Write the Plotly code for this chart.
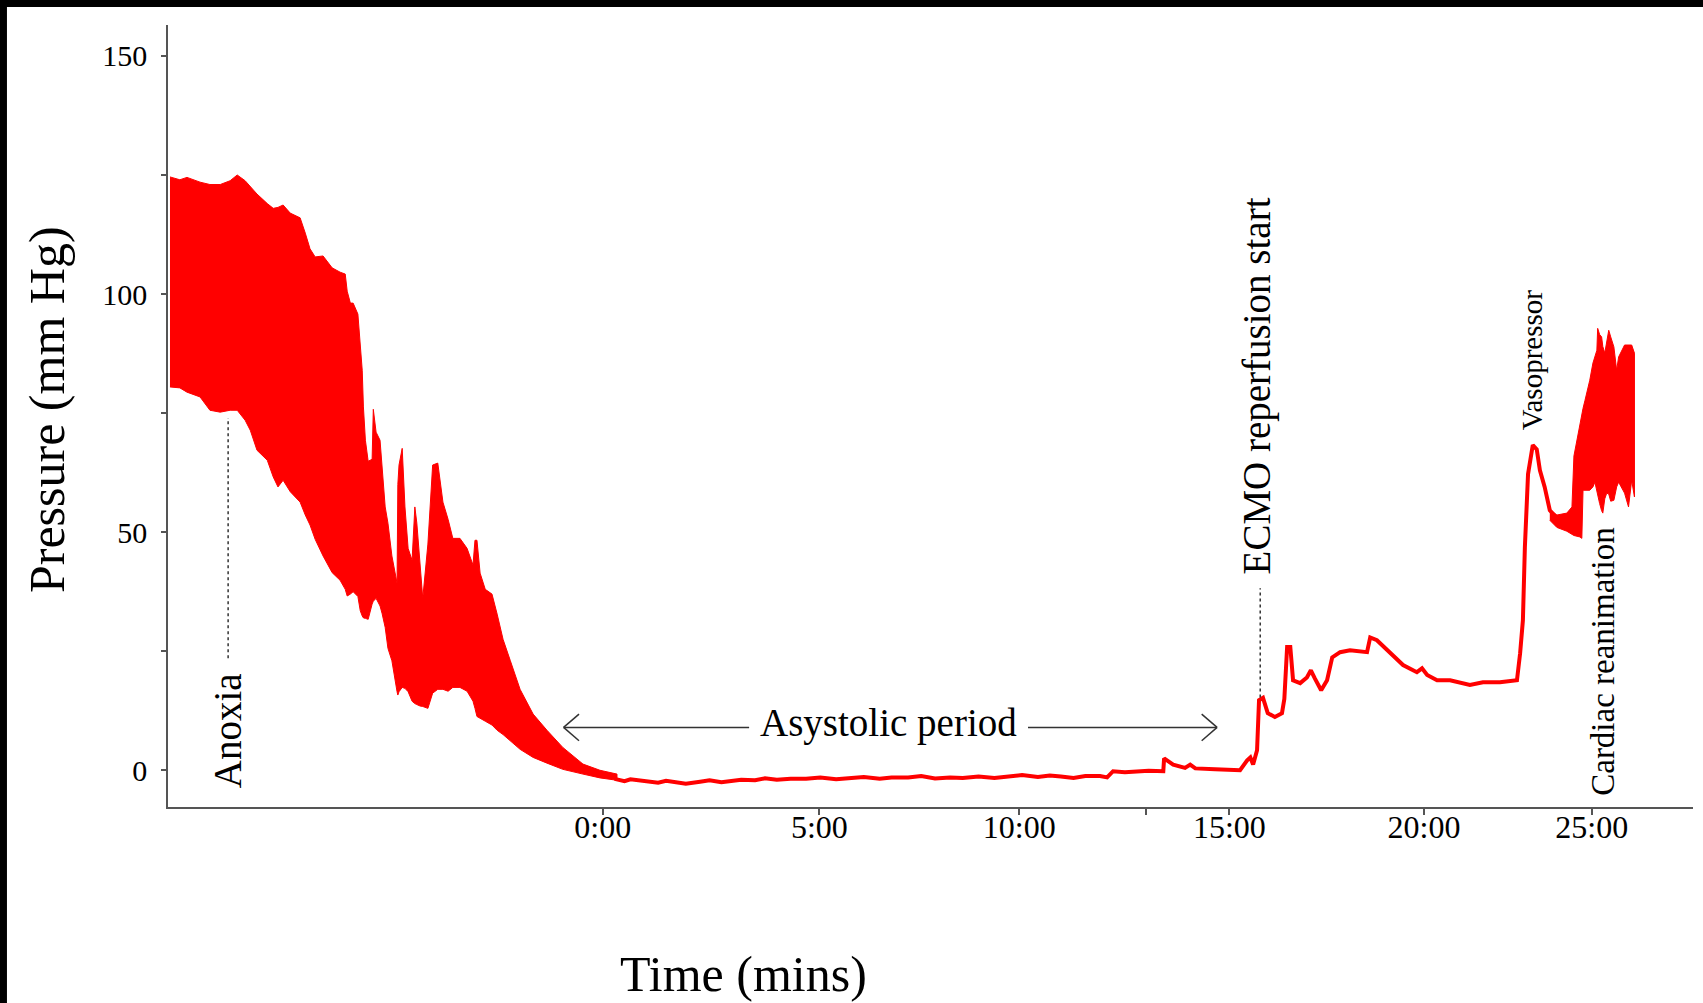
import plotly.graph_objects as go

# ---------------- data (time in minutes relative to asystole onset, pressure in mm Hg) ----------------
band1_t = [-10.94, -10.69, -10.51, -10.18, -9.93, -9.67, -9.42, -9.24, -9.04, -8.91, -8.74, -8.48, -8.33,
           -8.21, -8.08, -7.90, -7.65, -7.52, -7.40, -7.27, -7.07, -6.84, -6.64, -6.51, -6.46, -6.38, -6.31,
           -6.19, -6.13, -6.08, -6.05, -6.00, -5.93, -5.83, -5.80, -5.73, -5.63, -5.58, -5.50, -5.43, -5.33,
           -5.20, -5.18, -5.15, -5.07, -5.00, -4.92, -4.82, -4.75, -4.70, -4.62, -4.55, -4.42, -4.30, -4.17,
           -4.04, -3.91, -3.79, -3.61, -3.43, -3.28, -3.23, -3.18, -3.10, -2.97, -2.80, -2.67, -2.52, -2.34,
           -2.09, -1.76, -1.41, -1.01, -0.50, -0.07, 0.36]
band1_sys = [124.6, 124.0, 124.5, 123.5, 123.0, 123.0, 123.8, 125.0, 123.8, 122.5, 121.0, 119.0, 118.0,
             118.2, 118.7, 117.0, 116.0, 112.8, 109.5, 107.8, 108.0, 105.5, 104.6, 104.2, 100.6, 98.1, 98.1,
             95.8, 90.1, 84.0, 76.3, 69.3, 64.9, 65.3, 75.8, 71.0, 69.3, 64.1, 55.3, 51.9, 45.0,
             39.3, 60.0, 64.1, 67.6, 55.3, 46.6, 44.1, 55.3, 51.9, 43.1, 36.1, 47.5, 64.1, 64.5,
             56.3, 52.7, 48.7, 48.7, 46.6, 43.1, 48.3, 48.3, 41.4, 38.0, 37.0, 32.8, 27.5, 23.1,
             17.0, 11.8, 8.4, 4.8, 1.3, 0.0, -0.8]
band1_dia = [80.5, 80.3, 79.4, 78.4, 75.6, 75.2, 75.6, 75.6, 73.5, 71.4, 67.2, 65.1, 61.6,
             59.5, 60.9, 58.5, 56.3, 53.6, 51.5, 48.5, 45.0, 41.5, 39.9, 38.0, 36.6, 37.0, 37.5,
             36.5, 33.5, 32.4, 32.0, 31.9, 31.7, 34.9, 35.5, 36.1, 34.5, 33.0, 30.0, 25.6, 23.0,
             16.5, 15.8, 16.5, 17.4, 17.2, 16.5, 14.5, 14.0, 13.8, 13.5, 13.4, 13.0, 16.2, 17.0,
             17.0, 16.6, 17.4, 17.4, 16.6, 14.5, 13.0, 11.3, 11.0, 10.3, 9.5, 8.4, 7.5, 6.3,
             4.4, 2.7, 1.5, 0.2, -0.8, -1.6, -2.1]

line_t = [0.30, 0.55, 0.70, 0.94, 1.15, 1.40, 1.60, 1.93, 2.10, 2.46, 2.70, 3.00, 3.21, 3.50, 3.85,
          4.10, 4.40, 4.75, 5.14, 5.50, 5.90, 6.25, 6.60, 7.00, 7.30, 7.72, 8.05, 8.40, 8.78, 9.10,
          9.50, 9.90, 10.29, 10.60, 11.00, 11.30, 11.58, 11.90, 12.20, 12.57, 12.75, 12.90, 13.20,
          13.50, 13.80, 14.17, 14.19, 14.42, 14.72, 14.85, 14.98, 15.48,
          16.11, 16.29, 16.37, 16.44, 16.54, 16.59, 16.69, 16.81, 16.99, 17.17, 17.23, 17.30, 17.38,
          17.45, 17.63, 17.80, 17.90, 18.00, 18.16, 18.31, 18.44, 18.64, 18.89, 19.32, 19.40, 19.57,
          19.90, 20.23, 20.58, 20.71, 20.84, 21.09, 21.42, 21.92, 22.25, 22.68, 23.11, 23.19, 23.26,
          23.31, 23.39, 23.51, 23.61, 23.69, 23.81, 23.94, 24.12]
line_p = [-1.8, -2.3, -1.9, -2.2, -2.5, -2.6, -2.2, -2.5, -2.8, -2.4, -2.1, -2.5, -2.3, -2.0, -2.1,
          -1.7, -2.0, -1.8, -1.8, -1.5, -1.9, -1.7, -1.4, -1.8, -1.5, -1.5, -1.2, -1.7, -1.5, -1.6,
          -1.3, -1.6, -1.3, -1.0, -1.4, -1.1, -1.3, -1.6, -1.2, -1.2, -1.5, -0.2, -0.4,
          -0.3, -0.1, -0.2, 2.5, 1.2, 0.5, 1.2, 0.4, 0.2,
          0.0, 2.1, 2.7, 1.2, 4.2, 14.7, 15.2, 12.0, 11.2, 12.0, 15.0, 25.9, 25.9,
          18.9, 18.3, 19.5, 21.0, 19.3, 16.8, 18.9, 23.7, 24.8, 25.2, 24.8, 27.9, 27.3,
          24.6, 22.1, 20.6, 21.4, 20.0, 18.9, 18.9, 17.9, 18.5, 18.5, 18.9, 24.6, 31.5,
          46.8, 62.2, 68.3, 67.4, 63.0, 59.5, 54.6, 53.0]

band2_t = [23.94, 24.12, 24.37, 24.50, 24.55, 24.70, 24.75, 24.78, 24.83, 24.95, 25.03, 25.08, 25.13,
           25.15, 25.20, 25.25, 25.28, 25.33, 25.38, 25.43, 25.48, 25.56, 25.63, 25.68, 25.83, 25.93,
           26.01, 26.08]
band2_sys = [54.6, 53.6, 54.0, 55.3, 66.0, 72.9, 75.0, 76.0, 77.7, 81.9, 85.5, 87.0, 88.2,
             92.8, 91.5, 91.0, 89.0, 87.6, 90.0, 92.4, 91.0, 88.9, 84.0, 86.8, 89.3, 89.3,
             89.3, 87.6]
band2_dia = [52.5, 51.0, 50.2, 49.6, 49.3, 49.0, 48.7, 58.8, 58.8, 58.8, 59.5, 60.5, 58.5,
             58.2, 56.0, 54.5, 54.0, 57.0, 58.2, 58.0, 56.5, 56.7, 59.5, 60.5, 58.2, 55.3,
             60.9, 57.4]

x_tick_pos = [0, 5.475, 10.53, 13.72, 15.84, 20.76, 25.0]
x_tick_text = ["0:00", "5:00", "10:00", "", "15:00", "20:00", "25:00"]
y_tick_pos = [0, 25, 50, 75, 100, 125, 150]
y_tick_text = ["0", "", "50", "", "100", "", "150"]

events = [
    # label, x, y, font size
    ("Anoxia", -9.50, 8.4, 39),
    ("ECMO reperfusion start", 16.55, 80.7, 39),
    ("Vasopressor", 23.49, 86.1, 29),
    ("Cardiac reanimation", 25.30, 22.7, 33),
]
event_lines = [(-9.47, 23.5, 74.0), (16.62, 15.3, 38.2)]

RED = "#FF0000"
FONT = "Liberation Serif"
AX = "#555555"

fig = go.Figure()

fig.add_trace(go.Scatter(
    x=band1_t + band1_t[::-1], y=band1_sys + band1_dia[::-1],
    fill="toself", fillcolor=RED, line=dict(color=RED, width=1), mode="lines",
    hoverinfo="skip", showlegend=False))
fig.add_trace(go.Scatter(
    x=line_t, y=line_p, mode="lines", line=dict(color=RED, width=4),
    showlegend=False))
fig.add_trace(go.Scatter(
    x=band2_t + band2_t[::-1], y=band2_sys + band2_dia[::-1],
    fill="toself", fillcolor=RED, line=dict(color=RED, width=1), mode="lines",
    hoverinfo="skip", showlegend=False))

shapes = []
for (xv, y0, y1) in event_lines:
    shapes.append(dict(type="line", xref="x", yref="y", x0=xv, x1=xv, y0=y0, y1=y1,
                       line=dict(color="#333333", width=1.5, dash="dot")))

# Asystolic period double arrow
arr_y = 9.0
arr_l, arr_r = -0.99, 15.53
seg_l_end, seg_r_start = 3.70, 10.75
dx, dy = 0.39, 2.8
ac = dict(color="#333333", width=1.5)
shapes += [
    dict(type="line", x0=arr_l, x1=seg_l_end, y0=arr_y, y1=arr_y, line=ac),
    dict(type="line", x0=seg_r_start, x1=arr_r, y0=arr_y, y1=arr_y, line=ac),
    dict(type="line", x0=arr_l, x1=arr_l + dx, y0=arr_y, y1=arr_y + dy, line=ac),
    dict(type="line", x0=arr_l, x1=arr_l + dx, y0=arr_y, y1=arr_y - dy, line=ac),
    dict(type="line", x0=arr_r, x1=arr_r - dx, y0=arr_y, y1=arr_y + dy, line=ac),
    dict(type="line", x0=arr_r, x1=arr_r - dx, y0=arr_y, y1=arr_y - dy, line=ac),
]

# black frame strips (top and left) of the original image
shapes += [
    dict(type="rect", xref="paper", yref="paper", x0=-0.1102, x1=-0.1056, y0=-0.2506, y1=1.0320,
         fillcolor="black", line=dict(width=0), layer="above"),
    dict(type="rect", xref="paper", yref="paper", x0=-0.1102, x1=1.0066, y0=1.0230, y1=1.0320,
         fillcolor="black", line=dict(width=0), layer="above"),
]

annotations = []
for (txt, xv, yv, fs) in events:
    annotations.append(dict(text=txt, x=xv, y=yv, xref="x", yref="y", showarrow=False,
                            textangle=-90, font=dict(family=FONT, size=fs, color="black"),
                            xanchor="center", yanchor="middle"))
annotations.append(dict(text="Asystolic period", x=7.23, y=10.0, xref="x", yref="y", showarrow=False,
                        font=dict(family=FONT, size=39, color="black"), xanchor="center", yanchor="middle"))
annotations.append(dict(text="Pressure (mm Hg)", x=-0.0793, y=0.5077, xref="paper", yref="paper",
                        showarrow=False, textangle=-90, font=dict(family=FONT, size=50, color="black"),
                        xanchor="center", yanchor="middle"))
annotations.append(dict(text="Time (mins)", x=0.3777, y=-0.2136, xref="paper", yref="paper",
                        showarrow=False, font=dict(family=FONT, size=50, color="black"),
                        xanchor="center", yanchor="middle"))

fig.update_layout(
    width=1703, height=1003,
    margin=dict(l=168, r=10, t=25, b=196, pad=0),
    paper_bgcolor="white", plot_bgcolor="white",
    showlegend=False,
    shapes=shapes, annotations=annotations,
    font=dict(family=FONT, color="black"),
    xaxis=dict(range=[-10.99, 27.56], showgrid=False, zeroline=False,
               showline=True, linecolor=AX, linewidth=1.5,
               ticks="outside", ticklen=6, tickcolor=AX, tickwidth=1.5,
               tickmode="array", tickvals=x_tick_pos, ticktext=x_tick_text,
               ticklabelstandoff=-15,
               tickfont=dict(family=FONT, size=32, color="black")),
    yaxis=dict(range=[-7.71, 156.5], showgrid=False, zeroline=False,
               showline=True, linecolor=AX, linewidth=1.5,
               ticks="outside", ticklen=5, tickcolor=AX, tickwidth=1.5,
               tickmode="array", tickvals=y_tick_pos, ticktext=y_tick_text,
               ticklabelstandoff=8,
               tickfont=dict(family=FONT, size=30, color="black")),
)

fig.write_html("out.html")
